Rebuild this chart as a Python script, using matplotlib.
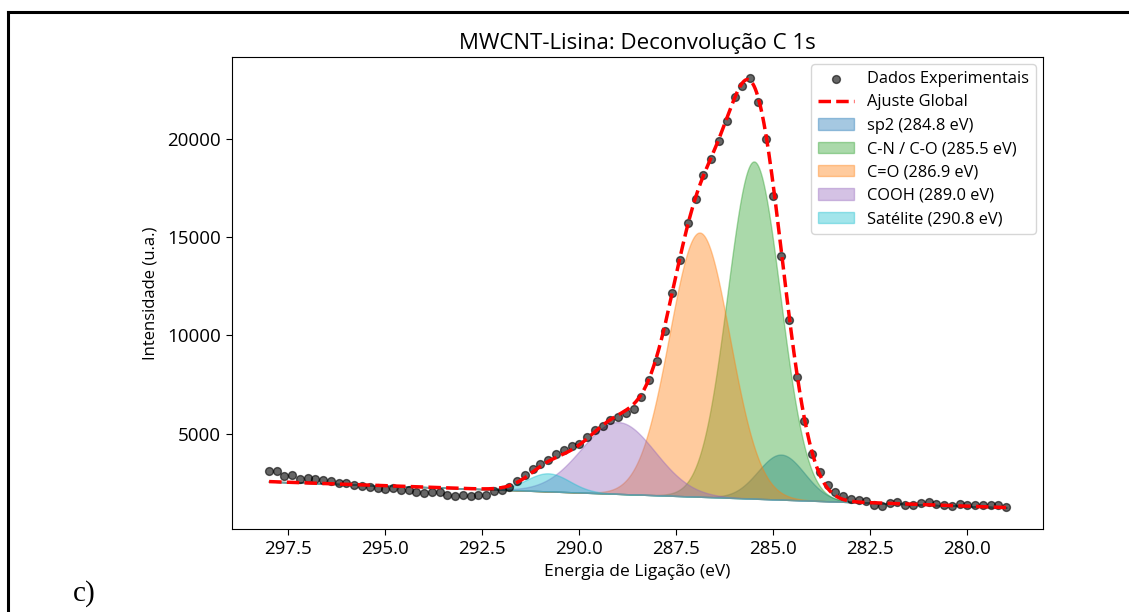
import numpy as np
import matplotlib
matplotlib.use("Agg")
import matplotlib.pyplot as plt
from matplotlib.lines import Line2D

plt.rcParams['font.family'] = ['Open Sans', 'DejaVu Sans']

# Binding-energy grid of the C 1s scan (eV), 0.2 eV step
energy = np.linspace(298.0, 279.0, 96)

# Measured intensities (a.u.)
intensity = [
    3090, 3090, 2840, 2910, 2720, 2740, 2720, 2670, 2620, 2480,
    2480, 2420, 2330, 2310, 2250, 2180, 2230, 2130, 2140, 2060,
    2010, 2030, 2030, 1870, 1820, 1910, 1820, 1910, 1910, 2080,
    2140, 2280, 2620, 2880, 3220, 3470, 3690, 3950, 4150, 4370,
    4490, 4830, 5200, 5420, 5680, 5850, 6060, 6270, 6880, 7720,
    8720, 10230, 12140, 13830, 15730, 16930, 18170, 18970, 19860, 20880,
    22130, 22670, 23060, 21850, 20000, 17060, 14050, 10780, 7890, 5630,
    3950, 3040, 2420, 2030, 1860, 1690, 1650, 1570, 1400, 1330,
    1460, 1510, 1400, 1400, 1460, 1510, 1430, 1400, 1350, 1430,
    1360, 1400, 1400, 1400, 1400, 1280,
]

# Linear background end points (eV, a.u.)
bg_energy = [279.0, 298.0]
bg_level = [1250, 2570]

# Gaussian components: label, centre (eV), height (a.u.), sigma (eV), colour
comp_labels = ['sp2 (284.8 eV)', 'C-N / C-O (285.5 eV)', 'C=O (286.9 eV)',
               'COOH (289.0 eV)', 'Satélite (290.8 eV)']
comp_centers = [284.8, 285.5, 286.9, 289.0, 290.8]
comp_heights = [2290, 17140, 13430, 3650, 920]
comp_sigmas = [0.60, 0.68, 0.78, 0.95, 0.55]
comp_colors = ['tab:blue', 'tab:green', 'tab:orange', 'tab:purple', 'tab:cyan']

W, H = 1129, 612
fig = plt.figure(figsize=(W / 100, H / 100), dpi=100)
ax = fig.add_axes([232 / W, 1 - 529 / H, 811 / W, 472 / H])

xf = np.linspace(energy.min(), energy.max(), 1200)
bg = np.interp(xf, bg_energy, bg_level)

total = bg.copy()
comps = []
for c, h, s in zip(comp_centers, comp_heights, comp_sigmas):
    g = h * np.exp(-(xf - c) ** 2 / (2 * s ** 2))
    comps.append(g)
    total += g

ax.scatter(energy, intensity, s=32, color='black', alpha=0.6,
           label='Dados Experimentais', zorder=3)
ax.plot(xf, total, 'r--', lw=2.5, dashes=(3.6, 1.5),
        label='Ajuste Global', zorder=4)
for g, lab, col in zip(comps, comp_labels, comp_colors):
    ax.fill_between(xf, bg, bg + g, color=col, alpha=0.4, label=lab)

ax.invert_xaxis()
ax.set_yticks([5000, 10000, 15000, 20000])
ax.tick_params(labelsize=13.5, length=4.5)
ax.set_xlabel('Energia de Ligação (eV)', fontsize=12.5, labelpad=4)
ax.set_ylabel('Intensidade (u.a.)', fontsize=12, labelpad=6)
ax.set_title('MWCNT-Lisina: Deconvolução C 1s', fontsize=16, pad=6)
ax.legend(loc='upper right', fontsize=11.8, labelspacing=0.45,
          borderaxespad=0.45, handlelength=2.2)

# page frame and panel tag
fig.add_artist(Line2D([8 / W, 8 / W], [0, 1 - 12 / H], color='black', lw=2.2))
fig.add_artist(Line2D([8 / W, 1], [1 - 12 / H, 1 - 12 / H], color='black', lw=2.2))
fig.text(73 / W, 1 - 601 / H, 'c)', family='Liberation Serif', fontsize=21,
         ha='left', va='baseline')

fig.savefig('out.png', dpi=100)
